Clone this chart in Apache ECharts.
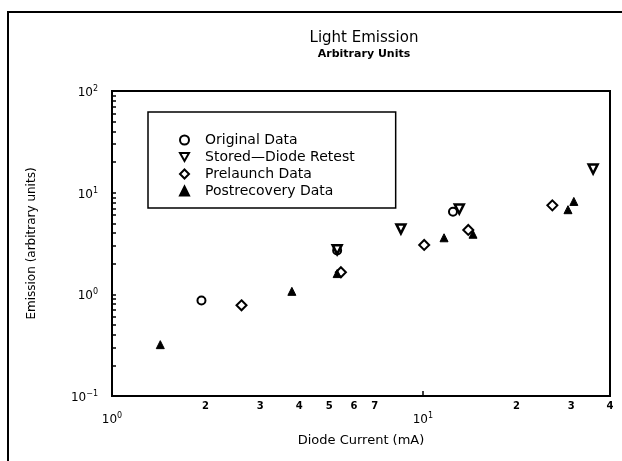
<!DOCTYPE html>
<html>
<head>
<meta charset="utf-8">
<script src="https://cdn.jsdelivr.net/npm/echarts@6/dist/echarts.min.js"></script>
<style>
  html, body { margin: 0; padding: 0; background: #fff; }
  #chart { width: 622px; height: 461px; }
</style>
</head>
<body>
<div id="chart"></div>
<script>
// data: [diode current mA, emission]
var originalData = [[1.94, 0.87], [5.3, 2.7], [12.5, 6.5]]
var storedData = [[5.3, 2.75], [8.5, 4.4], [13.1, 6.9], [35.3, 17.1]]
var prelaunchData = [[2.61, 0.78], [5.45, 1.65], [10.1, 3.06], [14.0, 4.3], [26.1, 7.5]]
var postrecoveryData = [[1.43, 0.32], [3.79, 1.07], [5.3, 1.6], [11.7, 3.6], [14.5, 3.9], [29.3, 6.8], [30.6, 8.2]]

var xLabelValues = [1, 2, 3, 4, 5, 6, 7, 10, 20, 30, 40]
var xTickValues = [10]
var yLabelValues = [0.1, 1, 10, 100]
var yMinorMantissas = [1, 2, 3, 4, 5, 6, 7, 8, 9]

var FONT = 'DejaVu Sans'

// every tick of the log y axis, one per mantissa per decade
var yTickValues = []
yLabelValues.forEach(function (d) {
  if (d === 100) { yTickValues.push(d); return }
  yMinorMantissas.forEach(function (m) { yTickValues.push(+(m * d).toPrecision(3)) })
})

function expOf(v) {
  return Math.floor(Math.log(v) / Math.LN10 + 1e-9)
}

var chart = echarts.init(document.getElementById('chart'))
chart.setOption({
  backgroundColor: '#fff',
  animation: false,
  textStyle: { fontFamily: FONT, color: '#000' },
  title: {
    text: 'Light Emission',
    subtext: 'Arbitrary Units',
    left: 359,
    top: 26,
    textAlign: 'center',
    itemGap: 3,
    textStyle: { fontFamily: FONT, fontSize: 15, fontWeight: 'normal', color: '#000' },
    subtextStyle: { fontFamily: FONT, fontSize: 11, fontWeight: 'bold', color: '#000' }
  },
  graphic: [
    {
      // outer frame of the figure
      type: 'rect',
      shape: { x: 8, y: 12, width: 700, height: 700 },
      style: { fill: 'none', stroke: '#000', lineWidth: 2 },
      silent: true
    }
  ],
  legend: {
    orient: 'vertical',
    left: 148,
    top: 112,
    padding: [21, 41, 10, 31],
    itemGap: 3,
    itemWidth: 9,
    itemHeight: 9,
    borderColor: '#000',
    borderWidth: 1.5,
    textStyle: { fontFamily: FONT, fontSize: 14, color: '#000', lineHeight: 14, padding: [0, 0, 0, 11] },
    data: ['Original Data', 'Stored\u2014Diode Retest', 'Prelaunch Data', 'Postrecovery Data']
  },
  grid: {
    left: 112,
    top: 91,
    right: 12,
    bottom: 65,
    show: true,
    borderColor: '#000',
    borderWidth: 2
  },
  xAxis: {
    type: 'log',
    min: 1,
    max: 40,
    name: 'Diode Current (mA)',
    nameLocation: 'middle',
    nameGap: 38,
    nameTextStyle: { fontFamily: FONT, fontSize: 13, color: '#000' },
    axisLine: { show: true, lineStyle: { color: '#000', width: 2 } },
    axisTick: { show: true, inside: true, length: 5, customValues: xTickValues, lineStyle: { color: '#000', width: 1.5 } },
    splitLine: { show: false },
    axisLabel: {
      customValues: xLabelValues,
      margin: 4,
      formatter: function (v) {
        var e = expOf(v)
        var m = Math.round(v / Math.pow(10, e))
        if (m === 1) return '{e|10}{s|' + e + '}'
        return '{m|' + m + '}'
      },
      rich: {
        e: { fontFamily: FONT, fontSize: 12, color: '#000', lineHeight: 26, verticalAlign: 'bottom' },
        s: { fontFamily: FONT, fontSize: 8, color: '#000', lineHeight: 26, verticalAlign: 'bottom', padding: [0, 0, 6, 0] },
        m: { fontFamily: FONT, fontSize: 10, fontWeight: 'bold', color: '#000', lineHeight: 12 }
      }
    }
  },
  yAxis: {
    type: 'log',
    min: 0.1,
    max: 100,
    name: 'Emission (arbitrary units)',
    nameLocation: 'middle',
    nameGap: 74,
    nameRotate: 90,
    nameTextStyle: { fontFamily: FONT, fontSize: 12, color: '#000' },
    axisLine: { show: true, lineStyle: { color: '#000', width: 2 } },
    axisTick: { show: true, inside: true, length: 4, customValues: yTickValues, lineStyle: { color: '#000', width: 1.5 } },
    splitLine: { show: false },
    axisLabel: {
      customValues: yLabelValues,
      margin: 14,
      formatter: function (v) {
        var e = expOf(v)
        return '{e|10}{s|' + (e < 0 ? '\u2212' + (-e) : e) + '}'
      },
      rich: {
        e: { fontFamily: FONT, fontSize: 12, color: '#000', lineHeight: 16, verticalAlign: 'bottom' },
        s: { fontFamily: FONT, fontSize: 8, color: '#000', lineHeight: 16, verticalAlign: 'bottom', padding: [0, 0, 6, 0] }
      }
    }
  },
  series: [
    {
      name: 'Original Data',
      type: 'scatter',
      symbol: 'circle',
      symbolSize: 8,
      itemStyle: { color: '#fff', borderColor: '#000', borderWidth: 2, opacity: 1 },
      data: originalData
    },
    {
      name: 'Stored\u2014Diode Retest',
      type: 'scatter',
      symbol: 'path://M0,0 L10,0 L5,9 Z',
      symbolSize: 9,
      itemStyle: { color: '#fff', borderColor: '#000', borderWidth: 2.5, opacity: 1 },
      data: storedData
    },
    {
      name: 'Prelaunch Data',
      type: 'scatter',
      symbol: 'diamond',
      symbolSize: 10,
      itemStyle: { color: '#fff', borderColor: '#000', borderWidth: 2, opacity: 1 },
      data: prelaunchData
    },
    {
      name: 'Postrecovery Data',
      type: 'scatter',
      symbol: 'triangle',
      symbolSize: 8,
      itemStyle: { color: '#000', borderColor: '#000', borderWidth: 1, opacity: 1 },
      data: postrecoveryData
    }
  ]
})
</script>
</body>
</html>
